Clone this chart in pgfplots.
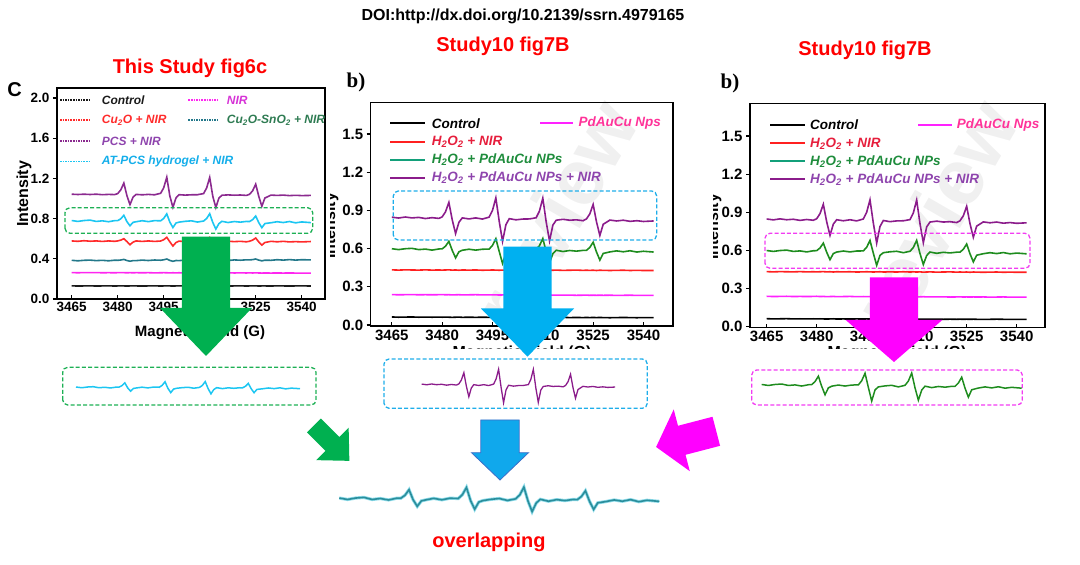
\documentclass[border=0pt]{standalone}
\usepackage{pgfplots}
\pgfplotsset{compat=1.18}
\usepackage{pgfplotstable}
\usepackage{fontspec}
\setmainfont{Liberation Sans}
\newfontfamily\serifb{Liberation Serif}

\definecolor{arrgreen}{HTML}{00B050}
\definecolor{arrcyan}{HTML}{00B0F0}
\definecolor{arrmag}{HTML}{FF00FF}
\definecolor{arrblue}{HTML}{10A8EC}
\definecolor{arrblueedge}{HTML}{3C6EC8}
\definecolor{cblack}{HTML}{1A1A1A}
\definecolor{cmag}{HTML}{FF26F0}
\definecolor{cred}{HTML}{FF2A2A}
\definecolor{cteal}{HTML}{23788A}
\definecolor{cpur}{HTML}{8B2A8F}
\definecolor{ccyan}{HTML}{1CC6F2}
\definecolor{tmag}{HTML}{D633D6}
\definecolor{tteal}{HTML}{2E7B52}
\definecolor{tpur}{HTML}{8E44AD}
\definecolor{tcyan}{HTML}{14AEEA}
\definecolor{dpur}{HTML}{8B1C8B}
\definecolor{dgreen}{HTML}{1E8C1E}
\definecolor{dred}{HTML}{FF2020}
\definecolor{dmag}{HTML}{FF22FF}
\definecolor{lpink}{HTML}{FF3399}
\definecolor{lcrim}{HTML}{E61E3C}
\definecolor{lgreen}{HTML}{1E8C3C}
\definecolor{lteal}{HTML}{13A07A}
\definecolor{ovteal}{HTML}{2A8E9C}
\definecolor{ovcyan}{HTML}{8FDCEA}
\definecolor{boxgreen}{HTML}{1DB054}
\definecolor{boxcyan}{HTML}{1EAEEA}
\definecolor{boxmag}{HTML}{F23CF2}

\pgfplotstableread{
x pcs at cu cusn nir ctrl hpn hp hn pd ctrlb
3465 1.043 0.781 0.578 0.385 0.263 0.131 0.847 0.599 0.433 0.239 0.063
3467 1.040 0.772 0.574 0.380 0.261 0.129 0.840 0.592 0.431 0.237 0.061
3469 1.043 0.781 0.580 0.385 0.263 0.130 0.848 0.599 0.433 0.238 0.062
3471 1.040 0.785 0.575 0.387 0.262 0.131 0.841 0.602 0.432 0.239 0.063
3473 1.043 0.772 0.578 0.382 0.263 0.129 0.845 0.592 0.431 0.237 0.061
3475 1.038 0.778 0.573 0.385 0.261 0.130 0.836 0.596 0.433 0.238 0.062
3477 1.041 0.769 0.578 0.380 0.262 0.131 0.843 0.588 0.431 0.237 0.061
3479 1.039 0.780 0.574 0.386 0.261 0.129 0.837 0.597 0.432 0.238 0.062
3480 1.049 0.780 0.578 0.385 0.262 0.130 0.849 0.598 0.431 0.239 0.061
3481 1.086 0.798 0.586 0.388 0.263 0.131 0.889 0.619 0.432 0.237 0.062
3482 1.154 0.833 0.600 0.394 0.262 0.130 0.963 0.657 0.433 0.238 0.061
3483 1.029 0.770 0.572 0.383 0.261 0.129 0.826 0.586 0.431 0.236 0.060
3484 0.939 0.729 0.540 0.376 0.262 0.130 0.718 0.527 0.432 0.237 0.061
3485 1.014 0.763 0.566 0.382 0.261 0.131 0.807 0.575 0.430 0.238 0.062
3486 1.041 0.769 0.578 0.382 0.262 0.130 0.841 0.587 0.432 0.236 0.060
3488 1.037 0.779 0.573 0.387 0.261 0.129 0.833 0.595 0.431 0.237 0.061
3490 1.041 0.770 0.578 0.383 0.262 0.130 0.841 0.588 0.432 0.238 0.060
3492 1.037 0.780 0.573 0.388 0.260 0.131 0.832 0.595 0.430 0.236 0.061
3494 1.052 0.778 0.577 0.386 0.261 0.129 0.847 0.596 0.431 0.237 0.060
3495 1.107 0.802 0.590 0.390 0.262 0.130 0.900 0.625 0.432 0.236 0.061
3496 1.212 0.847 0.614 0.398 0.261 0.131 0.998 0.678 0.431 0.237 0.060
3497 1.025 0.765 0.569 0.384 0.260 0.130 0.815 0.578 0.430 0.235 0.059
3498 0.912 0.711 0.527 0.375 0.261 0.129 0.657 0.483 0.431 0.236 0.060
3499 1.006 0.756 0.562 0.383 0.260 0.130 0.788 0.561 0.432 0.237 0.061
3500 1.038 0.765 0.576 0.382 0.261 0.131 0.835 0.582 0.430 0.235 0.059
3502 1.034 0.773 0.571 0.387 0.259 0.129 0.826 0.589 0.431 0.236 0.060
3504 1.037 0.778 0.574 0.390 0.260 0.130 0.832 0.593 0.430 0.235 0.059
3506 1.038 0.766 0.576 0.384 0.261 0.130 0.833 0.582 0.432 0.236 0.060
3508 1.049 0.776 0.576 0.387 0.260 0.129 0.842 0.593 0.430 0.235 0.061
3509 1.105 0.801 0.589 0.391 0.261 0.131 0.895 0.623 0.431 0.236 0.059
3510 1.210 0.849 0.613 0.399 0.260 0.130 0.996 0.679 0.430 0.234 0.060
3511 1.023 0.762 0.568 0.385 0.259 0.129 0.810 0.575 0.431 0.235 0.059
3512 0.910 0.696 0.528 0.377 0.260 0.130 0.660 0.489 0.429 0.236 0.060
3513 1.004 0.750 0.562 0.384 0.259 0.131 0.785 0.560 0.430 0.234 0.058
3514 1.033 0.773 0.571 0.389 0.260 0.130 0.823 0.587 0.431 0.235 0.059
3516 1.036 0.761 0.575 0.383 0.261 0.129 0.830 0.577 0.429 0.234 0.060
3518 1.033 0.771 0.571 0.389 0.259 0.130 0.823 0.585 0.430 0.235 0.058
3520 1.035 0.765 0.574 0.386 0.260 0.131 0.826 0.580 0.431 0.233 0.059
3522 1.031 0.772 0.569 0.390 0.259 0.129 0.819 0.586 0.429 0.234 0.058
3523 1.042 0.771 0.575 0.389 0.260 0.130 0.833 0.586 0.430 0.235 0.059
3524 1.077 0.790 0.586 0.392 0.259 0.130 0.872 0.609 0.429 0.233 0.058
3525 1.143 0.826 0.607 0.398 0.260 0.131 0.947 0.650 0.430 0.234 0.059
3526 1.022 0.760 0.568 0.387 0.259 0.129 0.810 0.573 0.428 0.233 0.058
3527 0.923 0.710 0.536 0.380 0.258 0.130 0.703 0.510 0.430 0.234 0.059
3528 1.005 0.751 0.562 0.386 0.259 0.130 0.791 0.562 0.429 0.233 0.058
3530 1.034 0.759 0.574 0.385 0.258 0.129 0.824 0.574 0.428 0.234 0.057
3532 1.031 0.769 0.569 0.391 0.259 0.131 0.817 0.582 0.429 0.232 0.058
3534 1.034 0.761 0.574 0.387 0.258 0.130 0.823 0.575 0.430 0.233 0.059
3536 1.029 0.771 0.568 0.392 0.259 0.129 0.814 0.583 0.428 0.234 0.058
3538 1.032 0.758 0.571 0.387 0.258 0.130 0.819 0.573 0.429 0.232 0.057
3540 1.029 0.767 0.568 0.391 0.257 0.131 0.813 0.579 0.428 0.233 0.058
3543 1.031 0.760 0.572 0.389 0.258 0.129 0.817 0.573 0.428 0.232 0.058
}\epr

\pgfplotsset{
  eprax/.style={scale only axis, anchor=south west,
    axis line style={line width=1.2pt},
    xtick align=inside, ytick align=outside, xtick pos=left, ytick pos=left,
    major tick length=4pt, tick style={line width=1.1pt,black},
    xtick={3465,3480,3495,3510,3525,3540},
    xticklabels={3465,3480,3495,3510,3525,3540}},
  miniax/.style={scale only axis, anchor=south west, hide axis, clip=false,
    xmin=3465, xmax=3543},
}

\tikzset{
  lgA/.style={anchor=west, inner sep=0pt, font=\fontsize{12}{12}\selectfont\bfseries\itshape},
  lgB/.style={anchor=west, inner sep=0pt, font=\fontsize{13.5}{13.5}\selectfont\bfseries\itshape},
  dbox/.style={dash pattern=on 4pt off 2.2pt, line width=1.3pt, rounded corners=5pt},
  dl/.style={line width=1.6pt},
}

\newcommand{\barrow}[9][]{%
  \fill[#2,#1,shift={(#3,#4)},rotate=#5] (0,-#7) -- (#6,-#7) -- (#6,-#8) -- ({#6+#9},0) -- (#6,#8) -- (#6,#7) -- (0,#7) -- cycle;}

\begin{document}
\begin{tikzpicture}[x=1pt,y=1pt]
\path (0,0) rectangle (1080,565);

% watermark
\node[rotate=60, text=black!6, font=\fontsize{80}{80}\selectfont\bfseries] at (555,350) {review};
\node[rotate=60, text=black!6, font=\fontsize{80}{80}\selectfont\bfseries] at (935,350) {review};

% ---------- panel 1 ----------
\begin{axis}[eprax, at={(57pt,266pt)}, width=268pt, height=211pt,
  xmin=3460.2, xmax=3547.6, ymin=0, ymax=2.1,
  ytick={0,0.4,0.8,1.2,1.6,2.0}, yticklabels={0.0,0.4,0.8,1.2,1.6,2.0},
  tick label style={font=\fontsize{13.5}{14}\selectfont\bfseries}]
\addplot[cblack, dl] table[x=x,y=ctrl]{\epr};
\addplot[cmag, dl] table[x=x,y=nir]{\epr};
\addplot[cteal, dl] table[x=x,y=cusn]{\epr};
\addplot[cred, dl] table[x=x,y=cu]{\epr};
\addplot[ccyan, dl] table[x=x,y=at]{\epr};
\addplot[cpur, dl] table[x=x,y=pcs]{\epr};
\end{axis}
\node[rotate=90, font=\fontsize{16}{16}\selectfont\bfseries] at (24,371) {Intensity};
\node[anchor=base, font=\fontsize{15}{15}\selectfont\bfseries] at (200,228.3) {Magnetic Field (G)};

% ---------- panel 2 ----------
\begin{axis}[eprax, at={(370.7pt,239pt)}, width=302.3pt, height=223.3pt,
  xmin=3458.7, xmax=3548.8, ymin=-0.008, ymax=1.746,
  ytick={0,0.3,0.6,0.9,1.2,1.5}, yticklabels={0.0,0.3,0.6,0.9,1.2,1.5},
  tick label style={font=\fontsize{15}{15}\selectfont\bfseries}]
\addplot[black, dl] table[x=x,y=ctrlb]{\epr};
\addplot[dmag, dl] table[x=x,y=pd]{\epr};
\addplot[dred, dl] table[x=x,y=hn]{\epr};
\addplot[dgreen, dl] table[x=x,y=hp]{\epr};
\addplot[dpur, dl] table[x=x,y=hpn]{\epr};
\end{axis}

% ---------- panel 3 ----------
\begin{axis}[eprax, at={(750pt,237.3pt)}, width=295pt, height=224.4pt,
  xmin=3460, xmax=3548.5, ymin=-0.008, ymax=1.757,
  ytick={0,0.3,0.6,0.9,1.2,1.5}, yticklabels={0.0,0.3,0.6,0.9,1.2,1.5},
  tick label style={font=\fontsize{15}{15}\selectfont\bfseries}]
\addplot[black, dl] table[x=x,y=ctrlb]{\epr};
\addplot[dmag, dl] table[x=x,y=pd]{\epr};
\addplot[dred, dl] table[x=x,y=hn]{\epr};
\addplot[dgreen, dl] table[x=x,y=hp]{\epr};
\addplot[dpur, dl] table[x=x,y=hpn]{\epr};
\end{axis}

% cropped y labels of the two Study10 panels
\begin{scope}
\clip (330,280) rectangle (350,400);
\node[rotate=90, font=\fontsize{16}{16}\selectfont\bfseries] at (331,339) {Intensity};
\end{scope}
\begin{scope}
\clip (713,280) rectangle (735,400);
\node[rotate=90, font=\fontsize{16}{16}\selectfont\bfseries] at (714,338) {Intensity};
\end{scope}
% cropped x labels (only the tops of the letters remain)
\begin{scope}
\clip (420,216.5) rectangle (640,219.5);
\node[anchor=base, font=\fontsize{16}{16}\selectfont\bfseries] at (522,207) {Magnetic Field (G)};
\end{scope}
\begin{scope}
\clip (800,216.5) rectangle (1000,219.5);
\node[anchor=base, font=\fontsize{16}{16}\selectfont\bfseries] at (897,207) {Magnetic Field (G)};
\end{scope}

% ---------- legends ----------
\draw[cblack, densely dotted, line width=1.6pt] (60,465) -- (90,465);
\node[lgA, text=cblack] at (101.7,465) {Control};
\draw[cmag, densely dotted, line width=1.6pt] (188.3,465) -- (218.3,465);
\node[lgA, text=tmag] at (226.7,465) {NIR};
\draw[cred, densely dotted, line width=1.6pt] (60,445) -- (90,445);
\node[lgA, text=cred] at (101.7,445) {Cu\textsubscript{2}O + NIR};
\draw[cteal, densely dotted, line width=1.6pt] (188.3,445) -- (218.3,445);
\node[lgA, text=tteal] at (226.7,445) {Cu\textsubscript{2}O-SnO\textsubscript{2} + NIR};
\draw[cpur, densely dotted, line width=1.6pt] (60,424) -- (90,424);
\node[lgA, text=tpur] at (101.7,424) {PCS + NIR};
\draw[ccyan, densely dotted, line width=1.6pt] (60,403.3) -- (90,403.3);
\node[lgA, text=tcyan] at (101.7,403.3) {AT-PCS hydrogel + NIR};

\foreach \lx/\ly/\tx/\cx/\cy/\ctx in {390/441.7/431.7/540/573.3/578.3, 770/440/810/918.3/951.7/956.7}{
  \draw[black, line width=2pt] (\lx,\ly) -- (\lx+35,\ly);
  \node[lgB, text=black] at (\tx,\ly) {Control};
  \draw[dmag, line width=2pt] (\cx,\ly) -- (\cy,\ly);
  \node[lgB, text=lpink] at (\ctx,\ly) {PdAuCu Nps};
  \draw[dred, line width=2pt] (\lx,\ly-18.5) -- (\lx+35,\ly-18.5);
  \node[lgB, text=lcrim] at (\tx,\ly-18.5) {H\textsubscript{2}O\textsubscript{2} + NIR};
  \draw[lteal, line width=2pt] (\lx,\ly-36.5) -- (\lx+35,\ly-36.5);
  \node[lgB, text=lgreen] at (\tx,\ly-36.5) {H\textsubscript{2}O\textsubscript{2} + PdAuCu NPs};
  \draw[dpur, line width=2pt] (\lx,\ly-54.5) -- (\lx+35,\ly-54.5);
  \node[lgB, text=tpur] at (\tx,\ly-54.5) {H\textsubscript{2}O\textsubscript{2} + PdAuCu NPs + NIR};
}

% ---------- texts ----------
\node[anchor=base, font=\fontsize{16}{16}\selectfont\bfseries] at (523,544.3) {DOI:http://dx.doi.org/10.2139/ssrn.4979165};
\node[anchor=base, text=red, font=\fontsize{20}{20}\selectfont\bfseries] at (190,491.7) {This Study fig6c};
\node[anchor=base, text=red, font=\fontsize{20}{20}\selectfont\bfseries] at (503,513.3) {Study10 fig7B};
\node[anchor=base, text=red, font=\fontsize{20}{20}\selectfont\bfseries] at (865,509) {Study10 fig7B};
\node[anchor=base, font=\fontsize{20}{20}\selectfont\bfseries] at (14.5,468.3) {C};
\node[anchor=base, font=\serifb\fontsize{21}{21}\selectfont\bfseries] at (356,477) {b)};
\node[anchor=base, font=\serifb\fontsize{21}{21}\selectfont\bfseries] at (730,476) {b)};
\node[anchor=base, text=red, font=\fontsize{20}{20}\selectfont\bfseries] at (489,17.7) {overlapping};

% ---------- dashed boxes ----------
\draw[dbox, boxgreen] (65,331.7) rectangle (312.7,357.3);
\draw[dbox, boxcyan] (393.3,325) rectangle (656.7,374);
\draw[dbox, boxmag] (765,296.7) rectangle (1030,331.7);
\draw[dbox, boxgreen] (62.7,160) rectangle (316,197.7);
\draw[dbox, boxcyan] (384,156.7) rectangle (647.3,206);
\draw[dbox, boxmag] (751.7,160) rectangle (1022.3,195);

% ---------- mini traces ----------
\begin{axis}[miniax, at={(76pt,163.5pt)}, width=224pt, height=28pt, ymin=0.6, ymax=0.95]
\addplot[ccyan, line width=1.5pt] table[x=x,y=at]{\epr};
\end{axis}
\begin{axis}[miniax, at={(421.7pt,156.7pt)}, width=193.5pt, height=49pt, ymin=0.6, ymax=1.1]
\addplot[dpur, line width=1.3pt] table[x=x,y=hpn]{\epr};
\end{axis}
\begin{axis}[miniax, at={(761.7pt,152.1pt)}, width=260pt, height=50pt, ymin=0.4, ymax=0.75]
\addplot[dgreen, line width=1.5pt] table[x=x,y=hp]{\epr};
\end{axis}
\begin{axis}[miniax, at={(339.3pt,38pt)}, width=320pt, height=56pt, ymin=0.6, ymax=0.95]
\addplot[ovcyan, line width=3.2pt] table[x=x,y=at]{\epr};
\addplot[ovteal, line width=1.6pt] table[x=x,y=at]{\epr};
\end{axis}

% ---------- arrows ----------
\barrow{arrgreen}{206}{328.3}{-90}{71.3}{24.2}{46}{48}
\barrow{arrcyan}{527.5}{318.3}{-90}{61.6}{24.2}{46.7}{48.4}
\barrow{arrmag}{894}{287.7}{-90}{42.7}{24.2}{48.3}{42}
\barrow[draw=arrblueedge, line width=0.8pt]{arrblue}{500}{145}{-90}{32.7}{19.2}{28.5}{27.3}
\barrow{arrgreen}{314}{139.5}{-45}{26}{9.8}{23}{24}
\barrow{arrmag}{716.3}{133.7}{194.6}{35.7}{15}{31.9}{26.5}

\pgfresetboundingbox
\path[use as bounding box] (0,0) rectangle (1080,565);
\end{tikzpicture}
\end{document}
